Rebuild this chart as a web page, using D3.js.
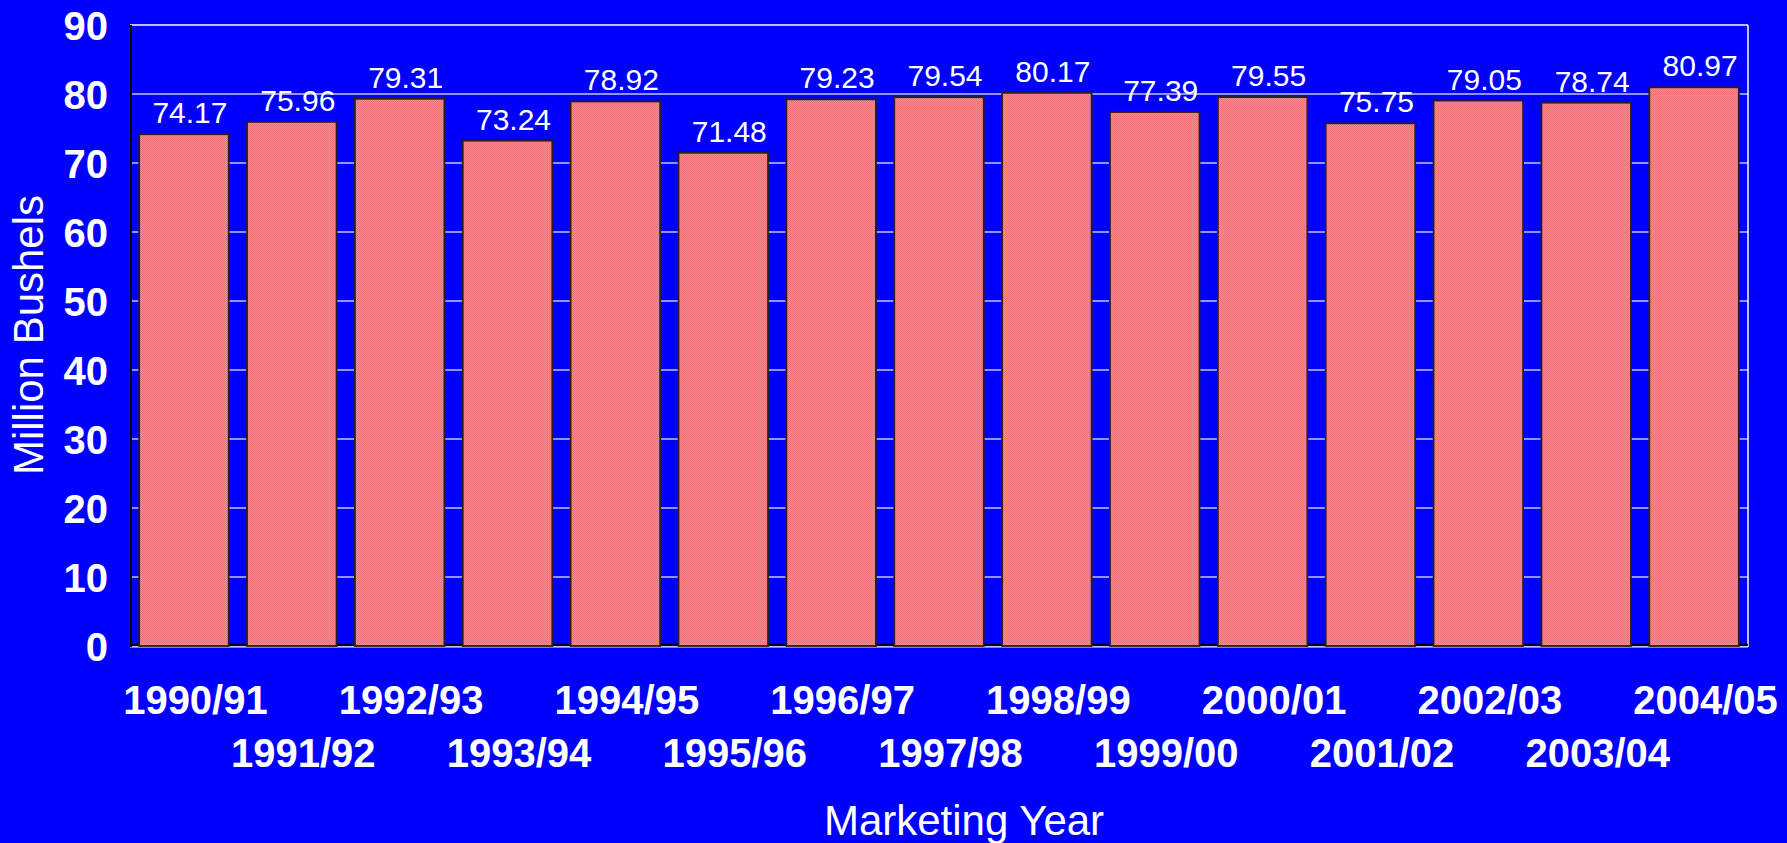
<!DOCTYPE html>
<html>
<head>
<meta charset="utf-8">
<script src="https://cdn.jsdelivr.net/npm/d3@7/dist/d3.min.js"></script>
<style>
  html, body { margin: 0; padding: 0; background: #0000ff; overflow: hidden; }
  svg { display: block; }
  text { font-family: "Liberation Sans", Arial, Helvetica, sans-serif; fill: #ffffff; }
</style>
</head>
<body>
<script>
const categories = ["1990/91","1991/92","1992/93","1993/94","1994/95","1995/96","1996/97","1997/98","1998/99","1999/00","2000/01","2001/02","2002/03","2003/04","2004/05"];
const values = [74.17, 75.96, 79.31, 73.24, 78.92, 71.48, 79.23, 79.54, 80.17, 77.39, 79.55, 75.75, 79.05, 78.74, 80.97];
const yTicks = [0, 10, 20, 30, 40, 50, 60, 70, 80, 90];
const yTitle = "Million Bushels";
const xTitle = "Marketing Year";

const W = 1787, H = 843;
const plot = { left: 130, right: 1748, top: 25, bottom: 646 };

const svg = d3.select("body").append("svg").attr("width", W).attr("height", H);
svg.append("rect").attr("width", W).attr("height", H).attr("fill", "#0000ff");

// hatch/checker pattern for bars
const defs = svg.append("defs");
const pat = defs.append("pattern").attr("id", "barPat")
  .attr("patternUnits", "userSpaceOnUse").attr("width", 2).attr("height", 2);
pat.append("rect").attr("width", 2).attr("height", 2).attr("fill", "#b9a6a6");
pat.append("rect").attr("x", 0).attr("y", 0).attr("width", 1).attr("height", 1).attr("fill", "#ea7272");
pat.append("rect").attr("x", 1).attr("y", 1).attr("width", 1).attr("height", 1).attr("fill", "#ea7272");

const x = d3.scaleBand().domain(categories).range([plot.left, plot.right])
  .paddingInner(0.17).paddingOuter(0.085);
const y = d3.scaleLinear().domain([0, 90]).range([plot.bottom, plot.top]);

// gridlines
svg.append("g").selectAll("line").data(yTicks.filter(t => t > 0 && t < 90)).join("line")
  .attr("x1", plot.left).attr("x2", plot.right)
  .attr("y1", d => y(d)).attr("y2", d => y(d))
  .attr("stroke", "#c4c4ff").attr("stroke-width", 1.5);

// plot border (top, right, bottom white)
svg.append("line").attr("x1", plot.left).attr("x2", plot.right).attr("y1", y(90)).attr("y2", y(90))
  .attr("stroke", "#ffffff").attr("stroke-width", 1.5);
svg.append("line").attr("x1", plot.right).attr("x2", plot.right).attr("y1", y(90)).attr("y2", plot.bottom + 1)
  .attr("stroke", "#ffffff").attr("stroke-width", 1.5);
svg.append("line").attr("x1", plot.left).attr("x2", plot.right).attr("y1", plot.bottom + 0.8).attr("y2", plot.bottom + 0.8)
  .attr("stroke", "#ffffff").attr("stroke-width", 1.2);
// black axis lines
svg.append("line").attr("x1", plot.left).attr("x2", plot.right).attr("y1", plot.bottom - 1.2).attr("y2", plot.bottom - 1.2)
  .attr("stroke", "#000000").attr("stroke-width", 2);
svg.append("line").attr("x1", plot.left + 1).attr("x2", plot.left + 1).attr("y1", y(90)).attr("y2", plot.bottom + 1)
  .attr("stroke", "#000000").attr("stroke-width", 2);

// bars
svg.append("g").selectAll("rect").data(values).join("rect")
  .attr("x", (d, i) => x(categories[i]))
  .attr("y", d => y(d))
  .attr("width", x.bandwidth())
  .attr("height", d => y(0) - y(d))
  .attr("fill", "url(#barPat)")
  .attr("stroke", "#2a1e1e").attr("stroke-width", 1.8);

// value labels
svg.append("g").selectAll("text").data(values).join("text")
  .attr("x", (d, i) => x(categories[i]) + x.bandwidth() / 2 + 6)
  .attr("y", d => y(d) - 11)
  .attr("text-anchor", "middle")
  .attr("font-size", 30)
  .text(d => d.toFixed(2));

// y axis
const yAxis = svg.append("g").attr("transform", `translate(${plot.left},0)`)
  .call(d3.axisLeft(y).tickValues(yTicks).tickSize(0).tickPadding(22).tickFormat(d3.format("d")));
yAxis.select(".domain").remove();
yAxis.selectAll("text")
  .attr("font-size", 40).attr("font-weight", "bold")
  .attr("font-family", "'Liberation Sans', Arial, sans-serif")
  .attr("fill", "#ffffff").attr("dy", "0.36em");

// x axis
const xAxis = svg.append("g").attr("transform", `translate(0,${plot.bottom})`)
  .call(d3.axisBottom(x).tickSize(0));
xAxis.select(".domain").remove();
xAxis.selectAll("text")
  .attr("font-size", 40).attr("font-weight", "bold")
  .attr("font-family", "'Liberation Sans', Arial, sans-serif")
  .attr("fill", "#ffffff")
  .attr("x", 11.5)
  .attr("dy", 0)
  .attr("y", (d, i) => i % 2 === 0 ? 68 : 121);

// axis titles
svg.append("text")
  .attr("transform", `translate(43,335) rotate(-90)`)
  .attr("text-anchor", "middle")
  .attr("font-size", 42)
  .text(yTitle);
svg.append("text")
  .attr("x", 964).attr("y", 835)
  .attr("text-anchor", "middle")
  .attr("font-size", 42)
  .text(xTitle);
</script>
</body>
</html>
